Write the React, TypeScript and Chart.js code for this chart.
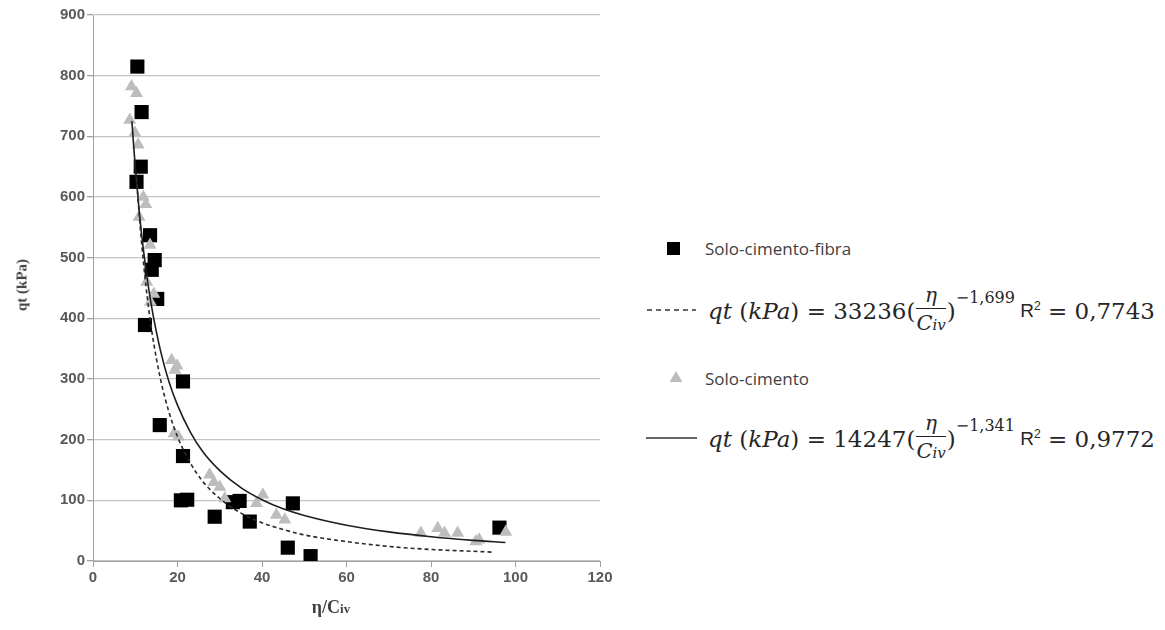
import React, { useEffect, useRef } from "react";
import { Chart, registerables } from "chart.js";

Chart.register(...registerables);

// Solo-cimento-fibra (black squares)
const fibraX = [10.5, 11.5, 11.3, 10.3, 13.5, 14.6, 13.9, 15.2, 12.3, 21.3, 15.8, 21.3, 20.8, 22.3, 28.8, 33.1, 34.7, 37.1, 47.3, 46.1, 51.5, 96.2];
const fibraY = [815, 740, 650, 625, 537, 496, 480, 432, 389, 296, 224, 173, 100, 101, 73, 97, 99, 65, 95, 22, 8, 55];

// Solo-cimento (grey triangles)
const cimentoX = [9.1, 10.3, 8.7, 9.9, 10.7, 11.9, 12.5, 10.9, 13.5, 12.7, 13.6, 14.4, 18.6, 19.4, 19.9, 20.2, 19.2, 27.6, 28.6, 30.0, 31.2, 40.2, 38.7, 43.4, 45.4, 77.6, 81.6, 83.2, 86.3, 90.6, 91.4, 97.7];
const cimentoY = [782, 771, 727, 706, 686, 600, 588, 567, 521, 460, 427, 440, 331, 315, 322, 205, 210, 142, 130, 122, 103, 109, 95, 76, 68, 46, 54, 46, 46, 32, 35, 48];

// Trend line of Solo-cimento-fibra (dashed)
const fibraTrendX = [10.3, 11, 12, 13, 14, 16, 18, 20, 23, 26, 30, 35, 40, 45, 50, 60, 70, 80, 90, 95];
const fibraTrendY = [632, 565, 488, 426, 375, 299, 245, 205, 162, 131, 103, 79, 63, 52, 43, 32, 24, 19, 16, 14.5];

// Trend line of Solo-cimento (solid)
const cimentoTrendX = [9.2, 10, 11, 12, 13, 14, 16, 18, 20, 23, 26, 30, 35, 40, 45, 50, 60, 70, 80, 90, 97.6];
const cimentoTrendY = [725, 650, 572, 509, 457, 414, 346, 295, 257, 213, 180, 149, 121, 101, 86, 75, 59, 48, 40, 34, 30.6];

// Legend texts
const fibraLabel = "Solo-cimento-fibra";
const cimentoLabel = "Solo-cimento";
const fibraCoef = "33236";
const fibraExp = "−1,699";
const fibraR2 = "0,7743";
const cimentoCoef = "14247";
const cimentoExp = "−1,341";
const cimentoR2 = "0,9772";

const xTicks = [0, 20, 40, 60, 80, 100, 120];
const yTicks = [0, 100, 200, 300, 400, 500, 600, 700, 800, 900];

const pts = (xs: number[], ys: number[]) => xs.map((x, i) => ({ x, y: ys[i] }));

const INK = "#262626";
const LEGEND_FONT = "'Open Sans', 'Liberation Sans', sans-serif";

function Equation({ top, coef, exp, r2 }: { top: number; coef: string; exp: string; r2: string }) {
  const it: React.CSSProperties = { fontStyle: "italic" };
  return (
    <div
      style={{
        position: "absolute",
        left: 708,
        top: top - 35,
        height: 70,
        display: "flex",
        alignItems: "center",
        fontFamily: "'DejaVu Serif', serif",
        fontSize: 23,
        color: INK,
        whiteSpace: "pre",
      }}
    >
      <span style={it}>qt</span>
      <span> (</span>
      <span style={it}>kPa</span>
      <span>{") = " + coef + "("}</span>
      <span
        style={{
          display: "inline-flex",
          flexDirection: "column",
          alignItems: "center",
          position: "relative",
          top: -1,
          margin: "0 1px",
        }}
      >
        <span style={{ ...it, fontSize: 20, lineHeight: "20px" }}>η</span>
        <span style={{ borderTop: `1.6px solid ${INK}`, width: "100%", margin: "3px 0 3px 0" }} />
        <span style={{ ...it, fontSize: 21, lineHeight: "22px" }}>
          C<span style={{ fontSize: 15 }}>iv</span>
        </span>
      </span>
      <span>)</span>
      <span style={{ fontSize: 16, position: "relative", top: -14 }}>{exp}</span>
      <span style={{ fontFamily: "'Liberation Sans', sans-serif", fontSize: 19 }}>
        {" R"}
        <span style={{ fontSize: 12, position: "relative", top: -7 }}>2</span>
      </span>
      <span>{" = " + r2}</span>
    </div>
  );
}

export default function App() {
  const ref = useRef<HTMLCanvasElement>(null);

  useEffect(() => {
    if (!ref.current) return;
    const tickFont = { family: "'Liberation Sans', sans-serif", size: 15, weight: "bold" };
    const chart = new Chart(ref.current, {
      type: "scatter",
      data: {
        datasets: [
          {
            label: "trend fibra",
            data: pts(fibraTrendX, fibraTrendY),
            showLine: true,
            pointRadius: 0,
            borderColor: "#2a2a2a",
            borderWidth: 1.6,
            borderDash: [4, 3],
            cubicInterpolationMode: "monotone",
            order: 0,
          },
          {
            label: "trend cimento",
            data: pts(cimentoTrendX, cimentoTrendY),
            showLine: true,
            pointRadius: 0,
            borderColor: "#1e1e1e",
            borderWidth: 1.6,
            cubicInterpolationMode: "monotone",
            order: 0,
          },
          {
            label: cimentoLabel,
            data: pts(cimentoX, cimentoY),
            pointStyle: "triangle",
            pointRadius: 7.5,
            backgroundColor: "#bdbdbd",
            borderColor: "#bdbdbd",
            borderWidth: 0,
            order: 1,
          },
          {
            label: fibraLabel,
            data: pts(fibraX, fibraY),
            pointStyle: "rect",
            pointRadius: 10,
            backgroundColor: "#000000",
            borderColor: "#000000",
            borderWidth: 0,
            order: 2,
          },
        ],
      },
      options: {
        responsive: false,
        animation: false,
        devicePixelRatio: 1,
        layout: { padding: { top: 15, right: 20, left: 0, bottom: 0 } },
        plugins: { legend: { display: false }, tooltip: { enabled: false } },
        scales: {
          x: {
            type: "linear",
            min: 0,
            max: 120,
            afterBuildTicks: (s: any) => {
              s.ticks = xTicks.map((v) => ({ value: v }));
            },
            afterFit: (s: any) => {
              s.height = 69;
            },
            ticks: { color: "#595959", font: tickFont, padding: 2 },
            grid: { drawOnChartArea: false, drawTicks: true, tickLength: 6, tickColor: "#a0a0a0" },
            border: { display: true, color: "#a0a0a0", width: 1 },
          },
          y: {
            type: "linear",
            min: 0,
            max: 900,
            afterBuildTicks: (s: any) => {
              s.ticks = yTicks.map((v) => ({ value: v }));
            },
            afterFit: (s: any) => {
              s.width = 93;
            },
            ticks: { color: "#595959", font: tickFont, padding: 2 },
            grid: { color: "#c4c4c4", lineWidth: 1.3, drawTicks: true, tickLength: 6, tickColor: "#a0a0a0" },
            border: { display: true, color: "#a0a0a0", width: 1 },
          },
        },
      },
    } as any);
    return () => chart.destroy();
  }, []);

  return (
    <div
      style={{
        position: "fixed",
        left: 0,
        top: 0,
        width: 1165,
        height: 630,
        background: "#ffffff",
        overflow: "hidden",
      }}
    >
      <canvas ref={ref} width={620} height={630} style={{ position: "absolute", left: 0, top: 0 }} />

      {/* y axis title */}
      <div
        style={{
          position: "absolute",
          left: 22,
          top: 285,
          transform: "translate(-50%, -50%) rotate(-90deg)",
          fontFamily: "'Liberation Serif', serif",
          fontWeight: "bold",
          fontSize: 15,
          color: "#404040",
          whiteSpace: "nowrap",
        }}
      >
        qt (kPa)
      </div>

      {/* x axis title */}
      <div
        style={{
          position: "absolute",
          left: 331,
          top: 607,
          transform: "translate(-50%, -50%)",
          fontFamily: "'Liberation Serif', serif",
          fontWeight: "bold",
          fontSize: 18,
          color: "#404040",
          whiteSpace: "nowrap",
        }}
      >
        η/C<span style={{ fontSize: 13 }}>iv</span>
      </div>

      {/* legend */}
      <div style={{ position: "absolute", left: 667, top: 242, width: 13, height: 13, background: "#000" }} />
      <div
        style={{
          position: "absolute",
          left: 705,
          top: 248,
          transform: "translateY(-50%)",
          fontFamily: LEGEND_FONT,
          fontSize: 17,
          color: "#404040",
          whiteSpace: "nowrap",
        }}
      >
        {fibraLabel}
      </div>
      <svg style={{ position: "absolute", left: 640, top: 300 }} width={60} height={20}>
        <line x1={7} y1={10} x2={56} y2={10} stroke="#333" strokeWidth={1.6} strokeDasharray="5,4" />
      </svg>
      <Equation top={311} coef={fibraCoef} exp={fibraExp} r2={fibraR2} />

      <svg style={{ position: "absolute", left: 665, top: 368 }} width={22} height={20}>
        <polygon points="11,3 17.5,14 4.5,14" fill="#bdbdbd" />
      </svg>
      <div
        style={{
          position: "absolute",
          left: 705,
          top: 378,
          transform: "translateY(-50%)",
          fontFamily: LEGEND_FONT,
          fontSize: 17,
          color: "#404040",
          whiteSpace: "nowrap",
        }}
      >
        {cimentoLabel}
      </div>
      <svg style={{ position: "absolute", left: 640, top: 428 }} width={60} height={20}>
        <line x1={6} y1={10} x2={57} y2={10} stroke="#333" strokeWidth={1.6} />
      </svg>
      <Equation top={439} coef={cimentoCoef} exp={cimentoExp} r2={cimentoR2} />
    </div>
  );
}
